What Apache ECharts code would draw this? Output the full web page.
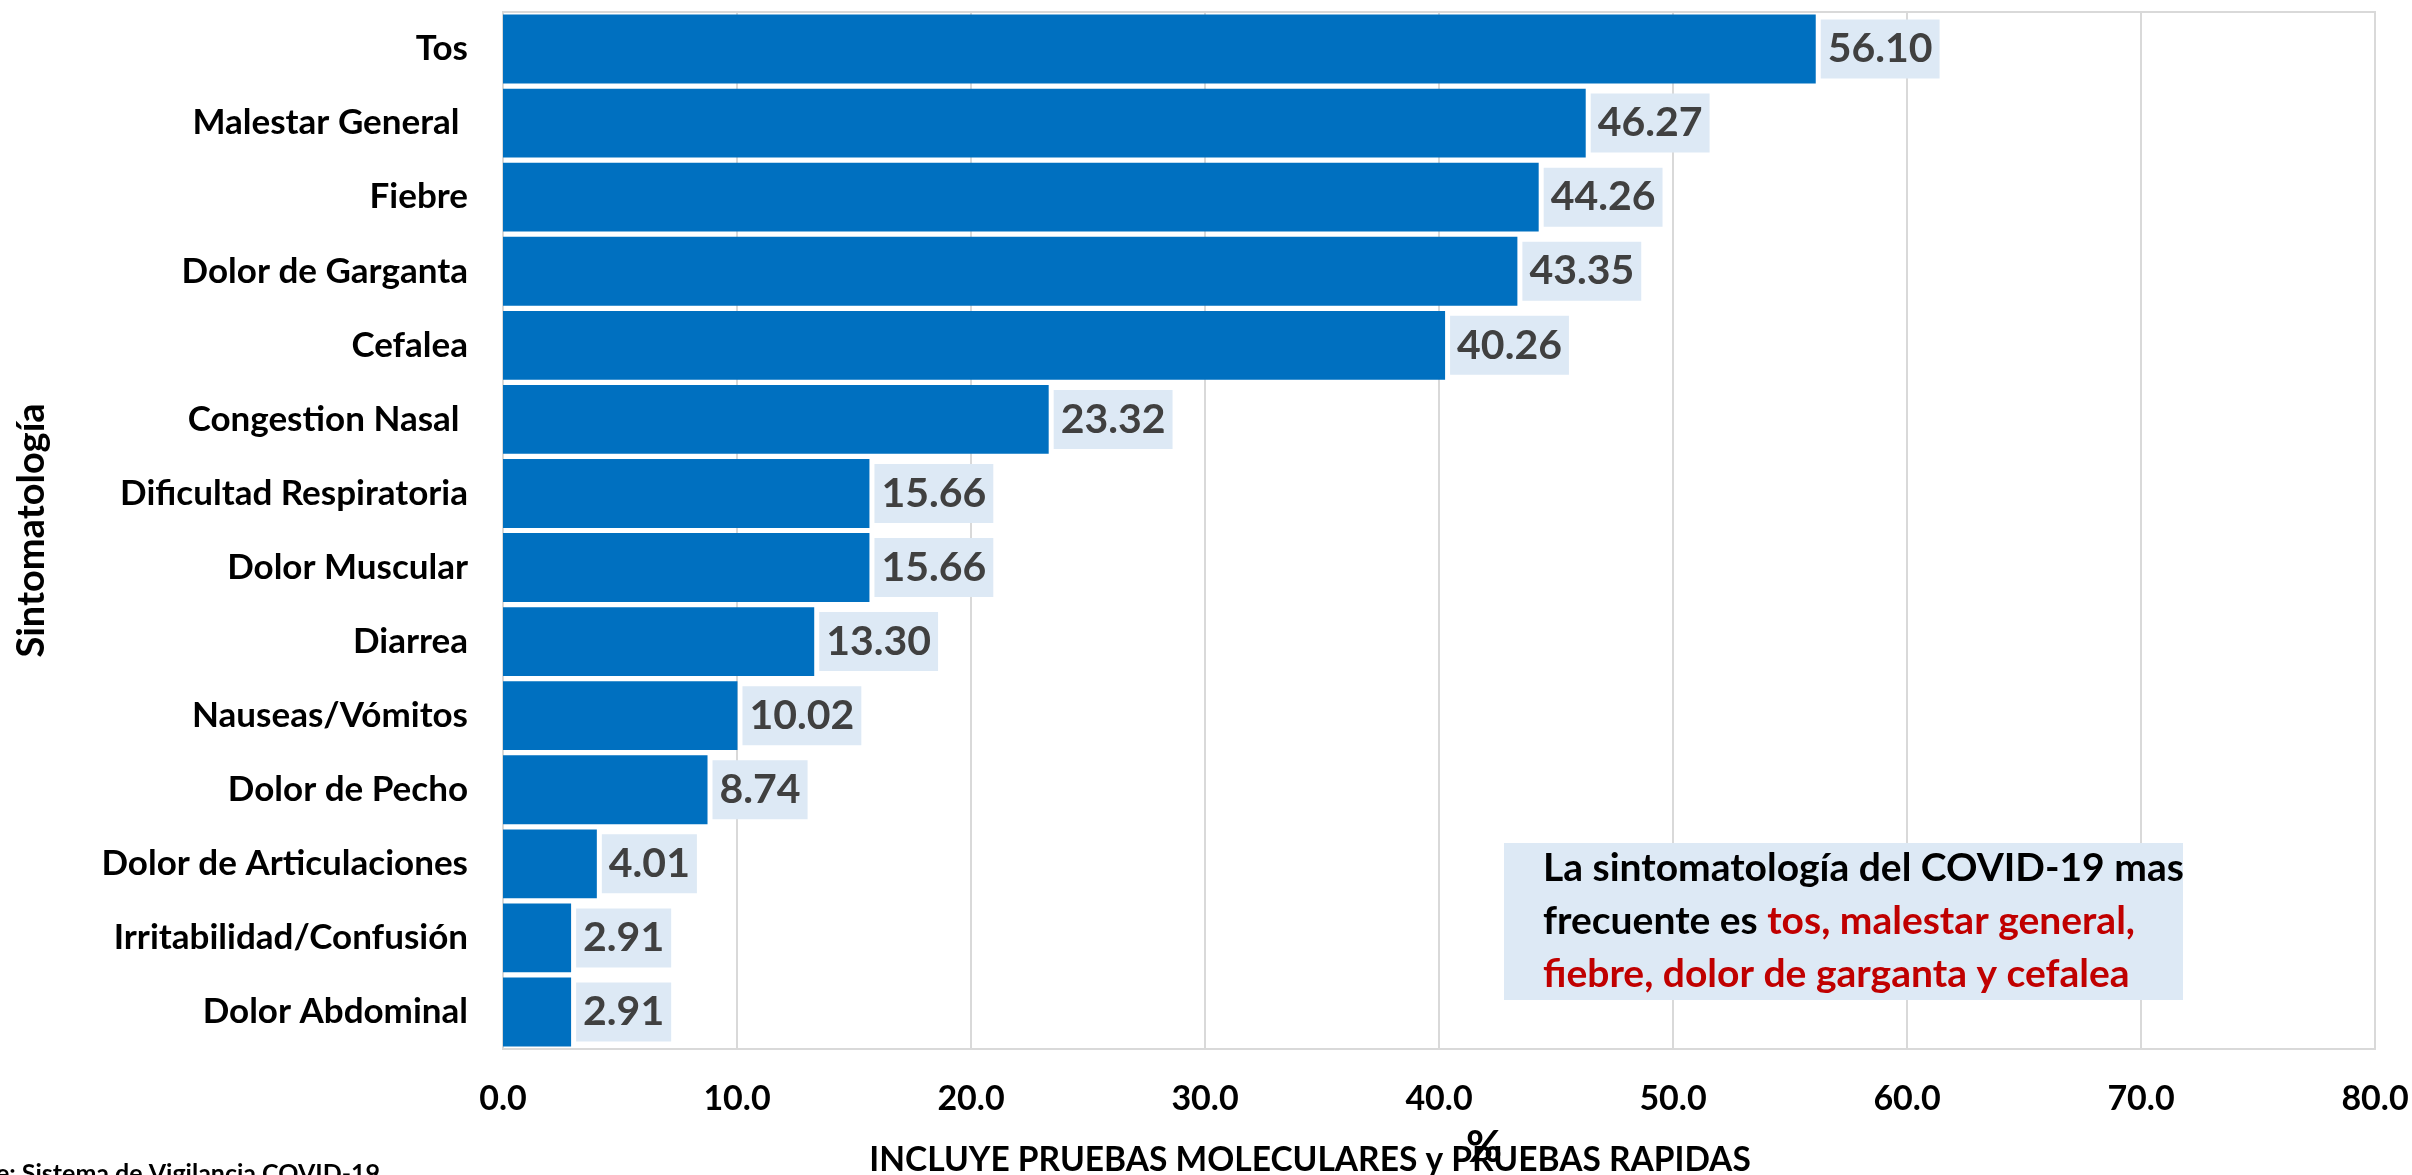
<!DOCTYPE html>
<html>
<head>
<meta charset="utf-8">
<script src="https://cdn.jsdelivr.net/npm/echarts@6/dist/echarts.min.js"></script>
<style>
html,body{margin:0;padding:0;background:#fff;}
#c{width:2412px;height:1175px;}
</style>
</head>
<body>
<div id="c"></div>
<script>
const categories = ["Tos","Malestar General ","Fiebre","Dolor de Garganta","Cefalea","Congestion Nasal ","Dificultad Respiratoria","Dolor Muscular","Diarrea","Nauseas/Vómitos","Dolor de Pecho","Dolor de Articulaciones","Irritabilidad/Confusión","Dolor Abdominal"];
const values = [56.10,46.27,44.26,43.35,40.26,23.32,15.66,15.66,13.30,10.02,8.74,4.01,2.91,2.91];
const xTicks = {min:0, max:80, interval:10};
const yAxisTitle = "Sintomatología";
const xAxisTitle = "%";
const subNote = "INCLUYE PRUEBAS MOLECULARES y PRUEBAS RAPIDAS";
const sourceNote = "Fuente: Sistema de Vigilancia COVID-19";
const boxBlack1 = "La sintomatología del COVID-19 mas";
const boxBlack2 = "frecuente es ";
const boxRed2 = "tos, malestar general,";
const boxRed3 = "fiebre, dolor de garganta y cefalea";

const FONT = 'Lato';
const chart = echarts.init(document.getElementById('c'));
chart.setOption({
  backgroundColor:'#fff',
  animation:false,
  textStyle:{fontFamily:FONT},
  grid:{left:503,right:37,top:12,bottom:126,show:true,borderColor:'#d9d9d9',borderWidth:2,containLabel:false},
  xAxis:{type:'value',min:xTicks.min,max:xTicks.max,interval:xTicks.interval,
    axisLine:{show:true,lineStyle:{color:'#d9d9d9',width:2}},
    axisTick:{show:false},
    splitLine:{show:true,lineStyle:{color:'#d9d9d9',width:2}},
    axisLabel:{formatter:v=>v.toFixed(1),fontSize:34,fontWeight:'bold',color:'#000',fontFamily:FONT,margin:33}
  },
  yAxis:{type:'category',data:categories,inverse:true,
    axisLine:{show:false},axisTick:{show:false},
    axisLabel:{fontSize:35,fontWeight:'bold',color:'#000',fontFamily:FONT,margin:35},
    name:yAxisTitle,nameLocation:'middle',nameRotate:90,nameGap:452,
    nameTextStyle:{fontSize:38,fontWeight:'bold',color:'#000',fontFamily:FONT}
  },
  series:[{type:'bar',data:values,barCategoryGap:'7%',
    itemStyle:{color:'#0070c0'},
    label:{show:true,position:'right',distance:5,formatter:p=>p.value.toFixed(2),
      fontSize:41,fontWeight:'bold',color:'#404040',fontFamily:FONT,
      backgroundColor:'#dde9f5',padding:[10,7,8,7]}
  }],
  graphic:[
    {type:'rect',left:1504,top:843,shape:{width:679,height:157},style:{fill:'#dde9f5'},z:10},
    {type:'text',left:1543,top:849,z:11,style:{
      text:'{k|'+boxBlack1+'}\n{k|'+boxBlack2+'}{r|'+boxRed2+'}\n{r|'+boxRed3+'}',
      rich:{k:{fill:'#000',fontSize:39,fontWeight:'bold',fontFamily:FONT,lineHeight:53},
            r:{fill:'#c00000',fontSize:39,fontWeight:'bold',fontFamily:FONT,lineHeight:53}}
    }},
    {type:'text',x:1310,y:1160,z:11,style:{text:subNote,fill:'#000',fontSize:33.5,fontWeight:'bold',fontFamily:FONT,textAlign:'center',textVerticalAlign:'middle'}},
    {type:'text',x:1484,y:1148,z:12,style:{text:xAxisTitle,fill:'#000',fontSize:44,fontWeight:'bold',fontFamily:FONT,textAlign:'center',textVerticalAlign:'middle'}},
    {type:'text',x:380,y:1174,z:11,style:{text:sourceNote,fill:'#000',fontSize:25,fontWeight:'bold',fontFamily:FONT,textAlign:'right',textVerticalAlign:'middle'}}
  ]
});
</script>
</body>
</html>
